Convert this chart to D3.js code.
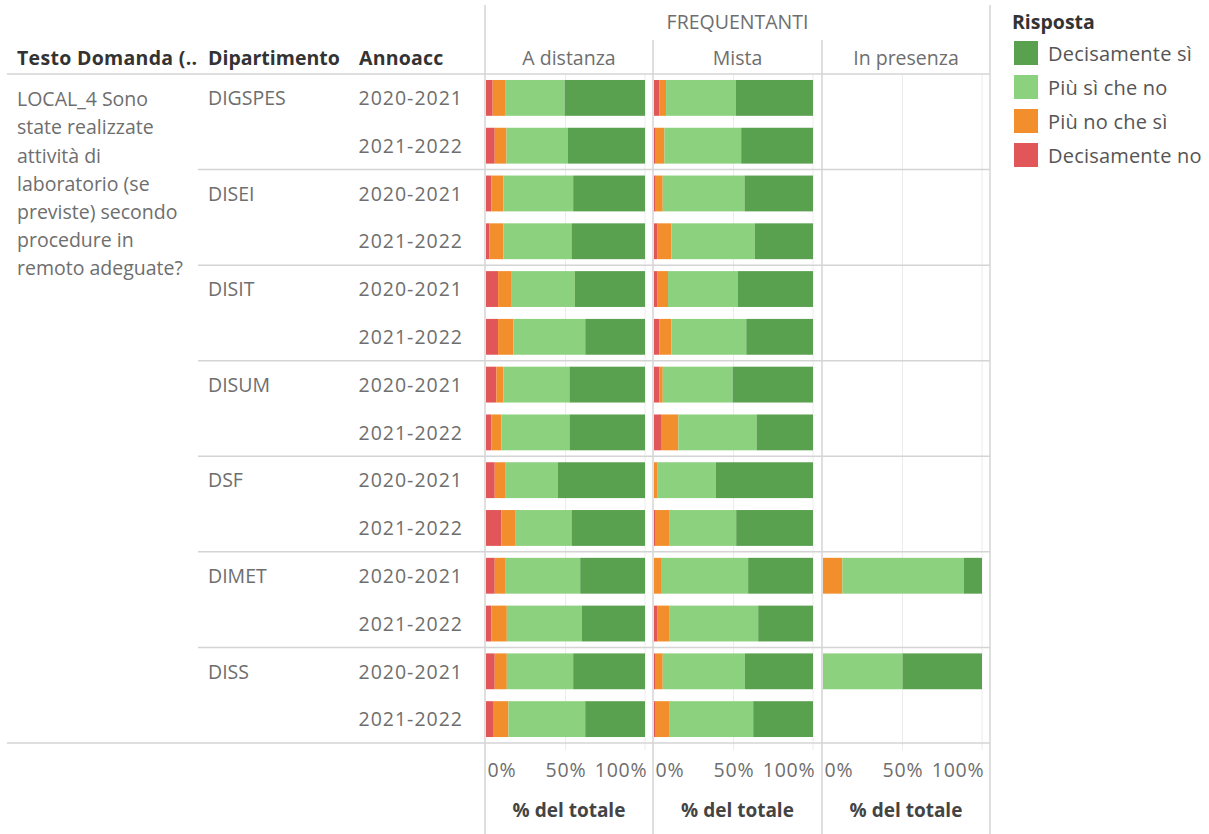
<!DOCTYPE html>
<html>
<head>
<meta charset="utf-8">
<script src="https://cdn.jsdelivr.net/npm/d3@7"></script>
<style>
  body { margin: 0; background: #fff; }
  svg text { font-family: "Open Sans", "Noto Sans", sans-serif; }
</style>
</head>
<body>
<svg class="chart" width="1209" height="834"></svg>
<script>
// values, % of total per row: [Decisamente no, Più no che sì, Più sì che no, Decisamente sì]
const departments = ["DIGSPES", "DISEI", "DISIT", "DISUM", "DSF", "DIMET", "DISS"];
const years = ["2020-2021", "2021-2022"];
const modes = ["A distanza", "Mista", "In presenza"];
const responses = ["Decisamente no", "Più no che sì", "Più sì che no", "Decisamente sì"];
const questionLines = ["LOCAL_4 Sono", "state realizzate", "attività di", "laboratorio (se", "previste) secondo", "procedure in", "remoto adeguate?"];
const tickValues = [0, 0.5, 1];

const aDistanza = [
  [4.2, 7.8, 37.4, 50.6], [5.5, 7.4, 38.7, 48.5],
  [3.4, 7.6, 43.9, 45.2], [2.1, 8.8, 42.9, 46.2],
  [7.6, 8.6, 39.7, 44.1], [7.6, 9.7, 45.2, 37.6],
  [6.5, 4.4, 41.6, 47.5], [3.4, 6.3, 42.9, 47.5],
  [5.5, 6.5, 33.2, 54.8], [9.7, 8.6, 35.5, 46.2],
  [5.5, 6.5, 47.3, 40.8], [3.4, 9.7, 47.3, 39.7],
  [5.5, 7.6, 41.8, 45.2], [4.4, 9.7, 48.3, 37.6]
];
const mista = [
  [3.4, 4.2, 43.9, 48.5], [1.1, 5.5, 48.3, 45.2],
  [1.1, 4.4, 51.5, 43.1], [2.3, 8.6, 52.5, 36.6],
  [2.3, 6.5, 43.9, 47.3], [3.4, 7.6, 47.1, 42.0],
  [3.4, 2.1, 43.9, 50.6], [4.4, 10.9, 49.2, 35.5],
  [0, 2.3, 36.6, 61.1], [1.1, 8.8, 41.8, 48.3],
  [0, 4.4, 54.8, 40.8], [2.3, 7.6, 55.7, 34.5],
  [1.1, 4.4, 51.7, 42.9], [1.1, 8.8, 52.5, 37.6]
];
const inPresenza = [
  null, null,
  null, null,
  null, null,
  null, null,
  null, null,
  [0, 12.2, 76.3, 11.5], null,
  [0, 0, 50, 50], null
];
const modeValues = [aDistanza, mista, inPresenza];

const colors = d3.scaleOrdinal()
  .domain(responses)
  .range(["#e15759", "#f28e2b", "#8cd17d", "#59a14f"]);

const svg = d3.select("svg.chart");

const rows = [];
departments.forEach((dep, i) => {
  years.forEach((yr, j) => rows.push({ dep: dep, year: yr, index: i * 2 + j }));
});

const panelEdges = [485, 653, 822, 990];
const plotTop = 74;
const plotBottom = 743;

const yScale = d3.scaleBand()
  .domain(rows.map(d => d.index))
  .range([plotTop, plotBottom])
  .paddingInner(0.25)
  .paddingOuter(0.125);

const step = yScale.step();

const lineColor = "#d4d4d4";
const gridColor = "#ececec";
const labelColor = "#6e6e6e";
const fontSize = 19.5;
const boldSize = 19.5;

// panels
modes.forEach((mode, m) => {
  const x0 = panelEdges[m] + 1;
  const xScale = d3.scaleLinear().domain([0, 1]).range([x0, x0 + 159]);
  const g = svg.append("g").attr("class", "panel");

  g.selectAll("line.grid")
    .data([0.5, 1])
    .enter()
    .append("line")
    .attr("class", "grid")
    .attr("x1", d => xScale(d))
    .attr("x2", d => xScale(d))
    .attr("y1", plotTop)
    .attr("y2", plotBottom + 7)
    .attr("stroke", gridColor);

  const stacked = [];
  modeValues[m].forEach((vals, r) => {
    if (!vals) return;
    const total = d3.sum(vals);
    let acc = 0;
    vals.forEach((v, k) => {
      stacked.push({ row: r, resp: responses[k], x0: acc / total, x1: (acc + v) / total });
      acc += v;
    });
  });

  g.selectAll("rect.seg")
    .data(stacked.filter(d => d.x1 > d.x0))
    .enter()
    .append("rect")
    .attr("class", "seg")
    .attr("x", d => xScale(d.x0))
    .attr("y", d => yScale(d.row))
    .attr("width", d => xScale(d.x1) - xScale(d.x0))
    .attr("height", yScale.bandwidth())
    .attr("fill", d => colors(d.resp));

  // panel header
  g.append("text")
    .attr("x", (panelEdges[m] + panelEdges[m + 1]) / 2)
    .attr("y", 60)
    .attr("text-anchor", "middle")
    .attr("dominant-baseline", "middle")
    .attr("font-size", fontSize)
    .attr("fill", labelColor)
    .text(mode);

  // axis
  const axis = g.append("g")
    .attr("transform", "translate(0," + 760 + ")")
    .call(d3.axisBottom(xScale).tickValues(tickValues).tickFormat(d3.format(".0%")).tickSize(0));
  axis.select(".domain").remove();
  axis.selectAll("text")
    .attr("font-size", fontSize)
    .attr("fill", labelColor)
    .attr("font-family", "'Open Sans', sans-serif")
    .attr("letter-spacing", 0.8)
    .attr("text-anchor", (d, i) => (i === 0 ? "start" : i === 2 ? "end" : "middle"))
    .attr("dx", (d, i) => (i === 0 ? 1 : i === 2 ? 2 : 0));

  g.append("text")
    .attr("x", (panelEdges[m] + panelEdges[m + 1]) / 2)
    .attr("y", 812)
    .attr("text-anchor", "middle")
    .attr("dominant-baseline", "middle")
    .attr("font-size", 19)
    .attr("font-weight", "bold")
    .attr("fill", "#444")
    .text("% del totale");
});

// separators
svg.append("line")
  .attr("x1", 7).attr("x2", 990)
  .attr("y1", plotTop).attr("y2", plotTop)
  .attr("stroke", lineColor).attr("stroke-width", 1.5);
svg.append("line")
  .attr("x1", 7).attr("x2", 990)
  .attr("y1", plotBottom).attr("y2", plotBottom)
  .attr("stroke", lineColor).attr("stroke-width", 1.5);

svg.selectAll("line.group")
  .data(d3.range(1, departments.length))
  .enter()
  .append("line")
  .attr("class", "group")
  .attr("x1", 198)
  .attr("x2", 990)
  .attr("y1", d => plotTop + d * 2 * step)
  .attr("y2", d => plotTop + d * 2 * step)
  .attr("stroke", lineColor)
  .attr("stroke-width", 1.5);

svg.selectAll("line.vert")
  .data(panelEdges)
  .enter()
  .append("line")
  .attr("class", "vert")
  .attr("x1", d => d)
  .attr("x2", d => d)
  .attr("y1", (d, i) => (i === 0 || i === 3 ? 5 : 40))
  .attr("y2", 834)
  .attr("stroke", lineColor)
  .attr("stroke-width", 1.5);

// headers
svg.append("text")
  .attr("x", (panelEdges[0] + panelEdges[3]) / 2)
  .attr("y", 24)
  .attr("text-anchor", "middle")
  .attr("dominant-baseline", "middle")
  .attr("font-size", fontSize)
  .attr("fill", labelColor)
  .text("FREQUENTANTI");

svg.selectAll("text.colhead")
  .data([["Testo Domanda (..", 17, 0.3], ["Dipartimento", 208, 0], ["Annoacc", 359, 0.2]])
  .enter()
  .append("text")
  .attr("class", "colhead")
  .attr("x", d => d[1])
  .attr("y", 60)
  .attr("dominant-baseline", "middle")
  .attr("font-size", boldSize)
  .attr("font-weight", "bold")
  .attr("letter-spacing", d => d[2])
  .attr("fill", "#333")
  .text(d => d[0]);

// question text
svg.selectAll("text.question")
  .data(questionLines)
  .enter()
  .append("text")
  .attr("class", "question")
  .attr("x", 17)
  .attr("y", (d, i) => 101 + i * 28.2)
  .attr("dominant-baseline", "middle")
  .attr("font-size", fontSize)
  .attr("fill", labelColor)
  .text(d => d);

// department labels
svg.selectAll("text.dep")
  .data(departments)
  .enter()
  .append("text")
  .attr("class", "dep")
  .attr("x", 208)
  .attr("y", (d, i) => yScale(i * 2) + yScale.bandwidth() / 2 + 2)
  .attr("dominant-baseline", "middle")
  .attr("font-size", fontSize)
  .attr("fill", labelColor)
  .text(d => d);

// year labels
svg.selectAll("text.year")
  .data(rows)
  .enter()
  .append("text")
  .attr("class", "year")
  .attr("x", 463)
  .attr("y", d => yScale(d.index) + yScale.bandwidth() / 2 + 2)
  .attr("text-anchor", "end")
  .attr("dominant-baseline", "middle")
  .attr("font-size", fontSize)
  .attr("letter-spacing", 1)
  .attr("fill", labelColor)
  .text(d => d.year);

// legend
const legend = svg.append("g").attr("transform", "translate(1012,0)");
legend.append("text")
  .attr("x", 0)
  .attr("y", 24)
  .attr("dominant-baseline", "middle")
  .attr("font-size", boldSize)
  .attr("font-weight", "bold")
  .attr("fill", "#333")
  .text("Risposta");

const legendItems = legend.selectAll("g.item")
  .data(responses.slice().reverse())
  .enter()
  .append("g")
  .attr("class", "item")
  .attr("transform", (d, i) => "translate(0," + (53 + i * 34) + ")");

legendItems.append("rect")
  .attr("x", 2)
  .attr("y", -12)
  .attr("width", 24)
  .attr("height", 24)
  .attr("fill", d => colors(d));

legendItems.append("text")
  .attr("x", 36)
  .attr("y", 3)
  .attr("dominant-baseline", "middle")
  .attr("font-size", 20)
  .attr("letter-spacing", 0.2)
  .attr("fill", "#555")
  .text(d => d);
</script>
</body>
</html>
